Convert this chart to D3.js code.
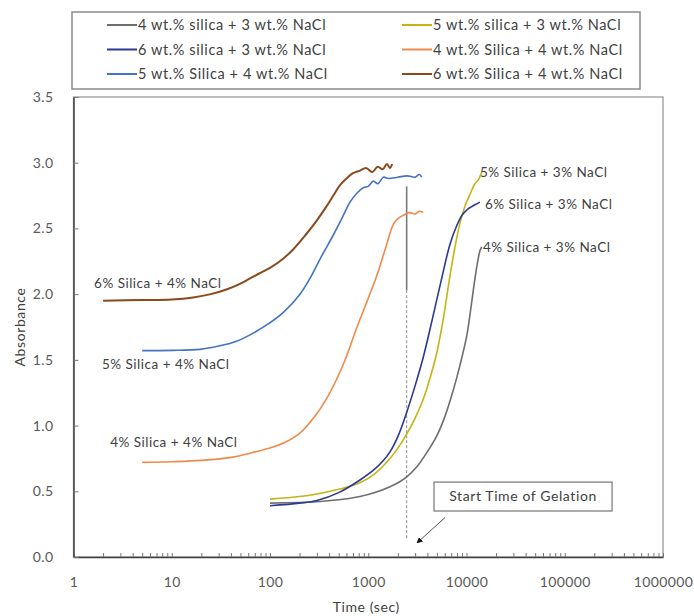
<!DOCTYPE html>
<html>
<head>
<meta charset="utf-8">
<script src="https://cdn.jsdelivr.net/npm/d3@7"></script>
<style>
  body { margin: 0; background: #fff; }
  text { font-family: Lato, "Open Sans", sans-serif; }
</style>
</head>
<body>
<div class="container"></div>
<script>
const width = 694;
const height = 616;

// series names as in the legend
const seriesNames = [
  '4 wt.% silica + 3 wt.% NaCl',
  '5 wt.% silica + 3 wt.% NaCl',
  '6 wt.% silica + 3 wt.% NaCl',
  '4 wt.% Silica + 4 wt.% NaCl',
  '5 wt.% Silica + 4 wt.% NaCl',
  '6 wt.% Silica + 4 wt.% NaCl'
];
const seriesColors = ['#6e6e6e', '#c4b414', '#2b3990', '#f08a4b', '#4472c4', '#8a4a1c'];

// time (sec) and absorbance
const time4s3n = [100, 200, 300, 500, 824, 1170, 1665, 2010, 2460, 3110, 3870, 4970, 6040, 7340, 8590, 10040, 11110, 12200, 13090, 13700, 14290];
const abs4s3n  = [0.41, 0.415, 0.42, 0.435, 0.46, 0.49, 0.535, 0.565, 0.61, 0.685, 0.785, 0.92, 1.07, 1.27, 1.46, 1.68, 1.90, 2.12, 2.26, 2.33, 2.36];

const time5s3n = [100, 200, 300, 500, 824, 1170, 1665, 2010, 2460, 2990, 3630, 4250, 4970, 5770, 6790, 7640, 8590, 9660, 10850, 12200, 13190, 14290];
const abs5s3n  = [0.44, 0.46, 0.48, 0.515, 0.565, 0.635, 0.75, 0.83, 0.935, 1.055, 1.20, 1.36, 1.55, 1.80, 2.14, 2.36, 2.54, 2.67, 2.76, 2.84, 2.87, 2.93];

const time6s3n = [100, 200, 300, 500, 824, 1170, 1410, 1665, 2010, 2460, 2990, 3630, 4460, 5590, 6790, 7950, 9000, 10040, 12200, 13700];
const abs6s3n  = [0.39, 0.41, 0.43, 0.49, 0.586, 0.67, 0.73, 0.80, 0.92, 1.10, 1.30, 1.52, 1.80, 2.12, 2.38, 2.52, 2.60, 2.64, 2.68, 2.70];

const time4s4n = [5, 10, 20, 42, 62.6, 100, 136, 200, 299, 400, 475, 560, 652, 760, 888, 1050, 1220, 1500, 1800, 2000, 2275, 2600, 3000, 3300, 3630];
const abs4s4n  = [0.72, 0.725, 0.735, 0.76, 0.79, 0.83, 0.865, 0.94, 1.09, 1.24, 1.35, 1.47, 1.60, 1.74, 1.87, 2.01, 2.14, 2.35, 2.53, 2.575, 2.60, 2.62, 2.61, 2.63, 2.62];

const time5s4n = [5, 10, 19.4, 30, 45, 62.6, 90, 136, 202, 255, 330, 441, 550, 652, 770, 891, 1000, 1125, 1250, 1423, 1600, 2000, 2500, 3000, 3300, 3500];
const abs5s4n  = [1.57, 1.572, 1.58, 1.605, 1.64, 1.69, 1.76, 1.86, 2.0, 2.12, 2.28, 2.45, 2.59, 2.70, 2.77, 2.81, 2.82, 2.86, 2.84, 2.89, 2.88, 2.89, 2.90, 2.89, 2.91, 2.89];

const time6s4n = [2, 5, 10, 16.5, 25, 36, 50, 62.6, 79, 100, 136, 172, 230, 299, 370, 441, 516, 600, 700, 824, 950, 1100, 1250, 1400, 1550, 1665, 1750];
const abs6s4n  = [1.95, 1.955, 1.96, 1.975, 2.0, 2.035, 2.08, 2.12, 2.16, 2.20, 2.27, 2.34, 2.45, 2.56, 2.66, 2.75, 2.83, 2.88, 2.92, 2.94, 2.96, 2.93, 2.97, 2.95, 2.99, 2.96, 2.99];

const seriesTimes = [time4s3n, time5s3n, time6s3n, time4s4n, time5s4n, time6s4n];
const seriesAbs = [abs4s3n, abs5s3n, abs6s3n, abs4s4n, abs5s4n, abs6s4n];

// in-plot labels: text, time, absorbance
const labelTexts = ['6% Silica + 4% NaCl', '5% Silica + 4% NaCl', '4% Silica + 4% NaCl',
                    '5% Silica + 3% NaCl', '6% Silica + 3% NaCl', '4% Silica + 3% NaCl'];
const labelTimes = [1.62, 1.95, 2.36, 13700, 15400, 14700];
const labelAbs = [2.085, 1.47, 0.87, 2.93, 2.68, 2.36];

const xTickLabels = ['1', '10', '100', '1000', '10000', '100000', '1000000'];
const yTicks = [0, 0.5, 1.0, 1.5, 2.0, 2.5, 3.0, 3.5];

// gelation marker and note
const gelTime = 2460;
const gelAbsTop = 2.82, gelAbsSolid = 2.03, gelAbsBottom = 0.13;
const noteText = 'Start Time of Gelation';
const noteTimes = [4670, 303000];
const noteAbs = [0.57, 0.35];
const arrowTimes = [6040, 3135];
const arrowAbs = [0.30, 0.107];

const plot = { left: 73.5, right: 663, top: 97, bottom: 557 };

const x = d3.scaleLog().domain([1, 1e6]).range([plot.left, plot.right]);
const y = d3.scaleLinear().domain([0, 3.5]).range([plot.bottom, plot.top]);

const svg = d3.select('.container')
  .append('svg')
  .attr('width', width)
  .attr('height', height);

// plot border
svg.append('rect')
  .attr('x', plot.left).attr('y', plot.top)
  .attr('width', plot.right - plot.left).attr('height', plot.bottom - plot.top)
  .attr('fill', 'none').attr('stroke', '#9a9a9a').attr('stroke-width', 1.3);

// x axis
const minorTicks = [];
for (let e = 0; e < 6; e++) {
  for (let m = 1; m < 10; m++) minorTicks.push(m * Math.pow(10, e));
}
minorTicks.push(1e6);

svg.append('g')
  .attr('transform', `translate(0,${plot.bottom})`)
  .call(d3.axisBottom(x).tickValues(minorTicks).tickSize(-4).tickSizeOuter(0).tickFormat(''))
  .call(g => g.select('.domain').attr('stroke', '#404040').attr('stroke-width', 1.5))
  .call(g => g.selectAll('.tick line').attr('stroke', '#777'));

svg.append('g')
  .attr('transform', `translate(0,${plot.bottom})`)
  .call(d3.axisBottom(x).tickValues(xTickLabels.map(Number)).tickSize(0).tickPadding(20)
    .tickFormat((d, i) => xTickLabels[i]))
  .call(g => g.select('.domain').remove())
  .call(g => g.selectAll('text').attr('fill', '#595959').attr('font-size', 14)
    .attr('letter-spacing', 0.4).attr('font-family', 'Lato'));

// y axis
svg.append('g')
  .attr('transform', `translate(${plot.left},0)`)
  .call(d3.axisLeft(y).tickValues(yTicks).tickSize(-5).tickSizeOuter(0).tickPadding(20)
    .tickFormat(d3.format('.1f')))
  .call(g => g.select('.domain').attr('stroke', '#404040').attr('stroke-width', 1.5))
  .call(g => g.selectAll('.tick line').attr('stroke', '#777'))
  .call(g => g.selectAll('text').attr('fill', '#595959').attr('font-size', 14)
    .attr('letter-spacing', 0.4).attr('font-family', 'Lato'));

svg.append('text')
  .attr('x', (plot.left + plot.right) / 2 - 2)
  .attr('y', 612)
  .attr('text-anchor', 'middle')
  .attr('font-size', 14)
  .attr('letter-spacing', 0.6)
  .attr('fill', '#404040')
  .text('Time (sec)');

svg.append('text')
  .attr('transform', `translate(25,${(plot.top + plot.bottom) / 2}) rotate(-90)`)
  .attr('text-anchor', 'middle')
  .attr('font-size', 14)
  .attr('letter-spacing', 0.6)
  .attr('fill', '#404040')
  .text('Absorbance');

// gelation marker
svg.append('line')
  .attr('x1', x(gelTime)).attr('x2', x(gelTime))
  .attr('y1', y(gelAbsSolid)).attr('y2', y(gelAbsBottom))
  .attr('stroke', '#8a8a8a').attr('stroke-width', 1).attr('stroke-dasharray', '3,2');
svg.append('line')
  .attr('x1', x(gelTime)).attr('x2', x(gelTime))
  .attr('y1', y(gelAbsTop)).attr('y2', y(gelAbsSolid))
  .attr('stroke', '#7a7a7a').attr('stroke-width', 1.6);

// curves
const line = d3.line()
  .x(d => x(d[0]))
  .y(d => y(d[1]))
  .curve(d3.curveCatmullRom.alpha(0.5));

seriesTimes.forEach((ts, i) => {
  svg.append('path')
    .datum(ts.map((t, j) => [t, seriesAbs[i][j]]))
    .attr('fill', 'none')
    .attr('stroke', seriesColors[i])
    .attr('stroke-width', i === 5 ? 2 : 1.6)
    .attr('d', line);
});

// in-plot labels
labelTexts.forEach((t, i) => {
  svg.append('text')
    .attr('x', x(labelTimes[i]))
    .attr('y', y(labelAbs[i]))
    .attr('dy', '0.35em')
    .attr('font-size', 13.5)
    .attr('letter-spacing', 0.5)
    .attr('fill', '#404040')
    .text(t);
});

// note box + arrow
svg.append('defs').append('marker')
  .attr('id', 'arrow')
  .attr('viewBox', '0 0 10 10')
  .attr('refX', 9).attr('refY', 5)
  .attr('markerWidth', 6).attr('markerHeight', 6)
  .attr('orient', 'auto')
  .append('path').attr('d', 'M0,0L10,5L0,10z').attr('fill', '#111');

svg.append('rect')
  .attr('x', x(noteTimes[0])).attr('y', y(noteAbs[0]))
  .attr('width', x(noteTimes[1]) - x(noteTimes[0]))
  .attr('height', y(noteAbs[1]) - y(noteAbs[0]))
  .attr('fill', '#fff').attr('stroke', '#808080').attr('stroke-width', 1.3);
svg.append('text')
  .attr('x', (x(noteTimes[0]) + x(noteTimes[1])) / 2)
  .attr('y', (y(noteAbs[0]) + y(noteAbs[1])) / 2)
  .attr('dy', '0.35em')
  .attr('text-anchor', 'middle')
  .attr('font-size', 14)
  .attr('letter-spacing', 0.6)
  .attr('fill', '#404040')
  .text(noteText);

svg.append('line')
  .attr('x1', x(arrowTimes[0])).attr('y1', y(arrowAbs[0]))
  .attr('x2', x(arrowTimes[1])).attr('y2', y(arrowAbs[1]))
  .attr('stroke', '#555').attr('stroke-width', 1)
  .attr('marker-end', 'url(#arrow)');

// legend
const legend = svg.append('g');
legend.append('rect')
  .attr('x', 72).attr('y', 12).attr('width', 568).attr('height', 77)
  .attr('fill', '#fff').attr('stroke', '#8a8a8a').attr('stroke-width', 1.5);

seriesNames.forEach((name, i) => {
  const col = i % 2, row = Math.floor(i / 2);
  const lx = col === 0 ? 107 : 402;
  const ly = 25 + row * 24.5;
  legend.append('line')
    .attr('x1', lx).attr('x2', lx + 30).attr('y1', ly).attr('y2', ly)
    .attr('stroke', seriesColors[i]).attr('stroke-width', 2);
  legend.append('text')
    .attr('x', lx + 31).attr('y', ly).attr('dy', '0.35em')
    .attr('font-size', 14.5).attr('letter-spacing', 0.6).attr('fill', '#404040')
    .text(name);
});
</script>
</body>
</html>
